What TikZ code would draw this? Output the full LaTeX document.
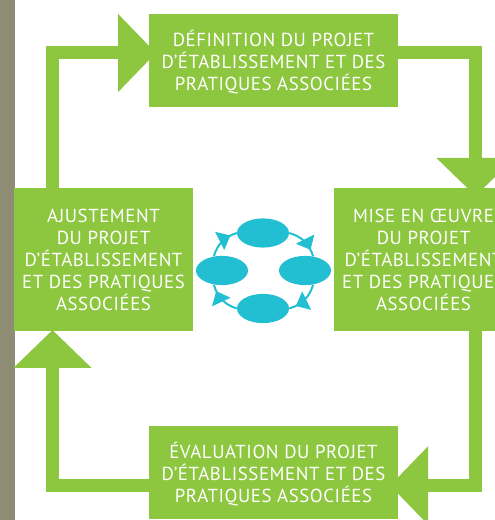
\documentclass[tikz,border=0pt]{standalone}
\usepackage{fontspec}
\setmainfont{PT Sans}[LetterSpace=3]
\usetikzlibrary{arrows.meta,decorations.markings,shapes.geometric}
\definecolor{leafgreen}{HTML}{8DC63F}
\definecolor{stripgrey}{HTML}{8E8C72}
\definecolor{ringblue}{HTML}{22BFD3}
\tikzset{
    stagebox/.style={fill=leafgreen, text=white, align=center, inner sep=0pt, font=\fontsize{13.4}{15.6}\selectfont, text depth=-.08cm},
    flowline/.style={line width=.325cm, draw=leafgreen, line join=miter, -{Triangle[length=.95cm,width=1.9cm,fill=leafgreen]}},
    ringcell/.style={ellipse, fill=ringblue, minimum width=1.3cm, minimum height=.73cm, inner sep=0pt},
    ringline/.style={line width=.05cm, draw=ringblue, postaction={decorate}, decoration={markings, mark=at position .8 with {\arrow{Triangle[length=.3cm,width=.5cm,fill=ringblue]}}}}
}
\begin{document}
\begin{tikzpicture}
    \useasboundingbox (0,0) rectangle (12.35,13);
    \fill[stripgrey] (0,0) rectangle (.375,13);
    % stages
    \node[stagebox, minimum width=6.225cm, minimum height=2.325cm] (defin) at (6.8375,11.4875) {DÉFINITION DU PROJET\\D’ÉTABLISSEMENT ET DES\\PRATIQUES ASSOCIÉES};
    \node[stagebox, minimum width=4.475cm, minimum height=3.575cm] (mise) at (10.5875,6.5125) {MISE EN ŒUVRE\\DU PROJET\\D’ÉTABLISSEMENT\\ET DES PRATIQUES\\ASSOCIÉES};
    \node[stagebox, minimum width=6.225cm, minimum height=2.325cm] (evalu) at (6.8375,1.1875) {ÉVALUATION DU PROJET\\D’ÉTABLISSEMENT ET DES\\PRATIQUES ASSOCIÉES};
    \node[stagebox, minimum width=4.475cm, minimum height=3.575cm] (ajust) at (2.5875,6.5125) {AJUSTEMENT\\DU PROJET\\D’ÉTABLISSEMENT\\ET DES PRATIQUES\\ASSOCIÉES};
    % where the big arrows end
    \coordinate (defin in) at (3.9,11.675);
    \coordinate (defin out) at (9.95,11.675);
    \coordinate (mise in) at (11.8875,8.1);
    \coordinate (mise out) at (11.8875,4.7375);
    \coordinate (evalu in) at (9.75,.8625);
    \coordinate (evalu out) at (3.725,.8625);
    \coordinate (ajust in) at (1.3125,4.75);
    \coordinate (ajust out) at (1.3125,8.3);
    \draw[flowline] (ajust out) |- (defin in);
    \draw[flowline] (defin out) -| (mise in);
    \draw[flowline] (mise out) |- (evalu in);
    \draw[flowline] (evalu out) -| (ajust in);
    % small ring
    \node[ringcell] (cellt) at (6.575,7.175) {};
    \node[ringcell] (cellr) at (7.625,6.2375) {};
    \node[ringcell] (cellb) at (6.575,5.2875) {};
    \node[ringcell] (celll) at (5.55,6.2375) {};
    \draw[ringline] (cellt.east) to[bend left=28] (cellr.60);
    \draw[ringline] (cellr.300) to[bend left=28] (cellb.east);
    \draw[ringline] (cellb.west) to[bend left=28] (celll.240);
    \draw[ringline] (celll.120) to[bend left=28] (cellt.west);
\end{tikzpicture}
\end{document}
